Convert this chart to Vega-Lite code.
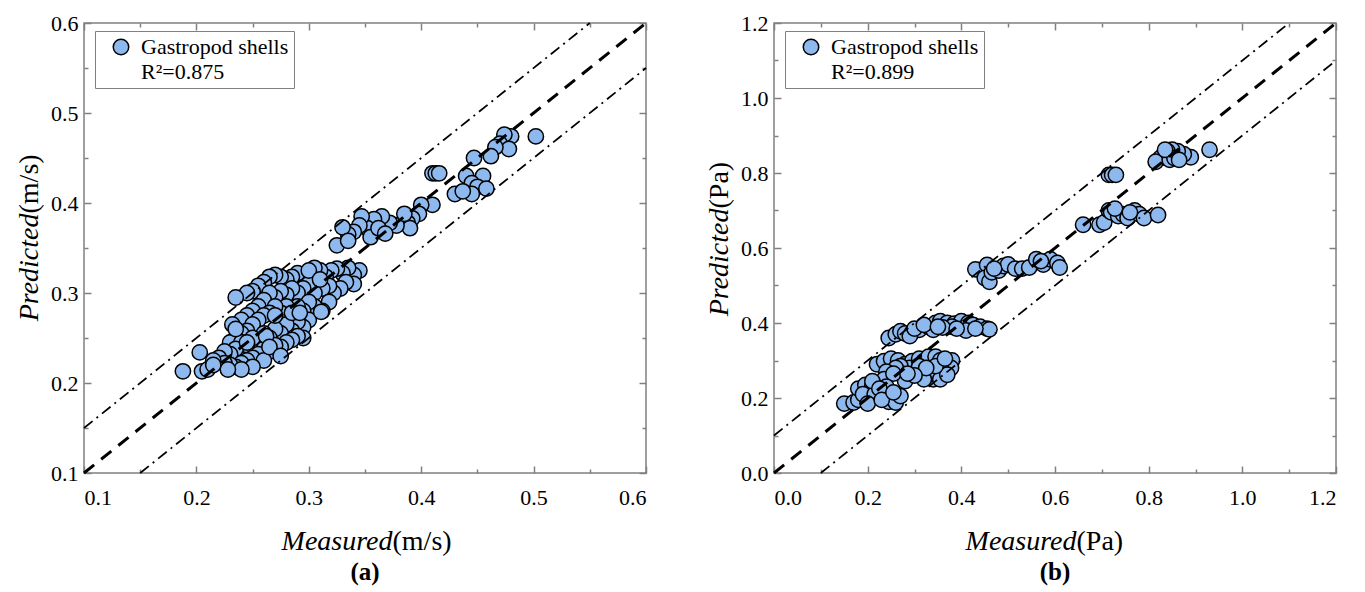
{
  "$schema": "https://vega.github.io/schema/vega-lite/v6.json",
  "background": "white",
  "padding": {"left": 14, "top": 11, "right": 5, "bottom": 0},
  "spacing": 51,
  "resolve": {"scale": {"fill": "independent", "stroke": "independent"}, "legend": {"fill": "independent", "stroke": "independent"}},
  "config": {
    "font": "Liberation Serif",
    "style": {"guide-label": {"font": "Liberation Serif", "fontSize": 22, "fill": "black"}, "guide-title": {"font": "Liberation Serif", "fontSize": 28, "fill": "black"}},
    "view": {"stroke": "#808080", "strokeWidth": 1.5},
    "axis": {"labelFont": "Liberation Serif", "labelFontSize": 22, "labelColor": "black", "titleFont": "Liberation Serif", "titleFontSize": 28, "titleColor": "black", "titleFontWeight": "normal", "domain": false, "grid": false, "tickColor": "#808080", "tickWidth": 1.5},
    "legend": {"orient": "none", "legendX": 11, "legendY": 8, "labelFont": "Liberation Serif", "labelFontSize": 22, "labelColor": "black", "symbolType": "circle", "symbolSize": 240, "symbolStrokeWidth": 1.5, "symbolOpacity": 1, "strokeColor": "#808080", "fillColor": "white", "padding": 5, "symbolOffset": 10, "labelOffset": 9, "rowPadding": 3},
    "title": {"font": "Liberation Serif", "fontSize": 25, "fontWeight": "bold", "color": "black"}
  },
  "hconcat": [
    {
      "width": 562, "height": 450,
      "title": {"text": "(a)", "orient": "bottom", "offset": 5},
      "resolve": {"axis": {"x": "independent", "y": "independent"}},
      "layer": [
        {
          "data": {"values": [
            {"m":0.502,"p":0.474},{"m":0.480,"p":0.474},{"m":0.474,"p":0.476},{"m":0.470,"p":0.466},{"m":0.478,"p":0.460},{"m":0.466,"p":0.462},{"m":0.462,"p":0.452},{"m":0.447,"p":0.450},{"m":0.455,"p":0.430},{"m":0.440,"p":0.430},{"m":0.445,"p":0.422},{"m":0.450,"p":0.418},{"m":0.458,"p":0.416},{"m":0.445,"p":0.410},{"m":0.430,"p":0.410},{"m":0.437,"p":0.413},{"m":0.410,"p":0.433},{"m":0.413,"p":0.433},{"m":0.416,"p":0.433},{"m":0.410,"p":0.398},{"m":0.400,"p":0.398},{"m":0.398,"p":0.388},{"m":0.392,"p":0.383},{"m":0.388,"p":0.378},{"m":0.390,"p":0.372},{"m":0.378,"p":0.375},{"m":0.385,"p":0.388},{"m":0.372,"p":0.378},{"m":0.365,"p":0.385},{"m":0.358,"p":0.382},{"m":0.352,"p":0.372},{"m":0.347,"p":0.385},{"m":0.345,"p":0.375},{"m":0.340,"p":0.368},{"m":0.335,"p":0.365},{"m":0.330,"p":0.373},{"m":0.325,"p":0.353},{"m":0.335,"p":0.358},{"m":0.355,"p":0.362},{"m":0.362,"p":0.372},{"m":0.368,"p":0.366},
            {"m":0.345,"p":0.325},{"m":0.340,"p":0.320},{"m":0.335,"p":0.328},{"m":0.330,"p":0.322},{"m":0.325,"p":0.327},{"m":0.320,"p":0.325},{"m":0.315,"p":0.318},{"m":0.310,"p":0.325},{"m":0.305,"p":0.328},{"m":0.300,"p":0.322},{"m":0.296,"p":0.318},{"m":0.290,"p":0.322},{"m":0.285,"p":0.318},{"m":0.280,"p":0.315},{"m":0.275,"p":0.318},{"m":0.270,"p":0.320},{"m":0.265,"p":0.318},{"m":0.260,"p":0.312},{"m":0.255,"p":0.308},{"m":0.250,"p":0.302},{"m":0.245,"p":0.300},{"m":0.235,"p":0.295},
            {"m":0.340,"p":0.310},{"m":0.333,"p":0.312},{"m":0.328,"p":0.305},{"m":0.322,"p":0.300},{"m":0.318,"p":0.308},{"m":0.312,"p":0.305},{"m":0.305,"p":0.300},{"m":0.300,"p":0.310},{"m":0.295,"p":0.305},{"m":0.290,"p":0.300},{"m":0.285,"p":0.305},{"m":0.280,"p":0.298},{"m":0.275,"p":0.302},{"m":0.270,"p":0.295},{"m":0.265,"p":0.300},{"m":0.260,"p":0.292},{"m":0.255,"p":0.285},{"m":0.250,"p":0.280},{"m":0.245,"p":0.275},{"m":0.240,"p":0.270},{"m":0.232,"p":0.265},
            {"m":0.318,"p":0.290},{"m":0.312,"p":0.280},{"m":0.305,"p":0.285},{"m":0.300,"p":0.290},{"m":0.295,"p":0.280},{"m":0.290,"p":0.285},{"m":0.285,"p":0.275},{"m":0.280,"p":0.285},{"m":0.275,"p":0.278},{"m":0.270,"p":0.285},{"m":0.265,"p":0.278},{"m":0.260,"p":0.275},{"m":0.255,"p":0.270},{"m":0.250,"p":0.265},{"m":0.245,"p":0.258},{"m":0.240,"p":0.255},{"m":0.235,"p":0.250},{"m":0.230,"p":0.245},
            {"m":0.300,"p":0.270},{"m":0.295,"p":0.262},{"m":0.290,"p":0.268},{"m":0.285,"p":0.258},{"m":0.280,"p":0.265},{"m":0.275,"p":0.255},{"m":0.270,"p":0.260},{"m":0.265,"p":0.250},{"m":0.260,"p":0.255},{"m":0.255,"p":0.245},{"m":0.250,"p":0.250},{"m":0.245,"p":0.242},{"m":0.240,"p":0.245},{"m":0.235,"p":0.238},{"m":0.230,"p":0.232},{"m":0.225,"p":0.235},{"m":0.220,"p":0.228},
            {"m":0.295,"p":0.250},{"m":0.290,"p":0.252},{"m":0.285,"p":0.248},{"m":0.280,"p":0.245},{"m":0.275,"p":0.240},{"m":0.270,"p":0.242},{"m":0.265,"p":0.235},{"m":0.260,"p":0.238},{"m":0.255,"p":0.232},{"m":0.250,"p":0.228},{"m":0.245,"p":0.225},{"m":0.240,"p":0.222},{"m":0.235,"p":0.218},{"m":0.230,"p":0.220},{"m":0.225,"p":0.222},{"m":0.215,"p":0.225},
            {"m":0.260,"p":0.225},{"m":0.250,"p":0.218},{"m":0.240,"p":0.215},{"m":0.228,"p":0.215},{"m":0.188,"p":0.213},{"m":0.205,"p":0.213},{"m":0.210,"p":0.215},{"m":0.203,"p":0.234},{"m":0.215,"p":0.220},
            {"m":0.285,"p":0.278},{"m":0.292,"p":0.278},{"m":0.270,"p":0.275},{"m":0.245,"p":0.245},{"m":0.235,"p":0.260},{"m":0.262,"p":0.252},{"m":0.300,"p":0.325},{"m":0.310,"p":0.315},{"m":0.265,"p":0.240},{"m":0.275,"p":0.230},{"m":0.311,"p":0.279}
          ]},
          "mark": {"type": "circle", "size": 235, "strokeWidth": 1.5, "opacity": 1},
          "encoding": {
            "x": {"field": "m", "type": "quantitative", "scale": {"domain": [0.1, 0.6], "nice": false, "zero": false},
              "axis": {"orient": "bottom", "values": [0.1,0.2,0.3,0.4,0.5,0.6], "format": ".1f", "tickSize": -7, "labelPadding": 21, "labelFont": "Liberation Serif", "title": "Measured", "titleFontStyle": "italic", "titleAlign": "right", "titleX": 308, "titleY": 76, "titleBaseline": "alphabetic"}},
            "y": {"field": "p", "type": "quantitative", "scale": {"domain": [0.1, 0.6], "nice": false, "zero": false},
              "axis": {"orient": "left", "values": [0.1,0.2,0.3,0.4,0.5,0.6], "format": ".1f", "tickSize": -7, "labelPadding": 13, "labelFont": "Liberation Serif", "title": "Predicted", "titleFontStyle": "italic", "titleAngle": -90, "titleAlign": "right", "titleX": -47, "titleY": 190, "titleBaseline": "alphabetic"}},
            "fill": {"datum": "Gastropod shells", "scale": {"domain": ["Gastropod shells", "R²=0.875"], "range": ["#8DB9EE", "transparent"]}, "legend": {"title": null}},
            "stroke": {"datum": "Gastropod shells", "scale": {"domain": ["Gastropod shells", "R²=0.875"], "range": ["black", "transparent"]}, "legend": {"title": null}}
          }
        },
        {
          "data": {"values": [{"m": 0.1, "p": 0.1}, {"m": 0.6, "p": 0.6}]},
          "mark": {"type": "line", "color": "black", "strokeWidth": 3, "strokeDash": [13, 9]},
          "encoding": {
            "x": {"field": "m", "type": "quantitative", "axis": {"orient": "bottom", "values": [0.15,0.25,0.35,0.45,0.55], "tickSize": -4, "labels": false, "title": "(m/s)", "titleAlign": "left", "titleX": 308, "titleY": 76, "titleBaseline": "alphabetic"}},
            "y": {"field": "p", "type": "quantitative", "axis": {"orient": "left", "values": [0.15,0.25,0.35,0.45,0.55], "tickSize": -4, "labels": false, "title": "(m/s)", "titleAngle": -90, "titleAlign": "left", "titleX": -47, "titleY": 190, "titleBaseline": "alphabetic"}}
          }
        },
        {
          "data": {"values": [{"m": 0.1, "p": 0.15}, {"m": 0.55, "p": 0.6}]},
          "mark": {"type": "line", "color": "black", "strokeWidth": 1.8, "strokeDash": [11, 5, 2, 5]},
          "encoding": {
            "x": {"field": "m", "type": "quantitative", "axis": {"orient": "top", "values": [0.1,0.2,0.3,0.4,0.5,0.6], "tickSize": -7, "labels": false, "title": null}},
            "y": {"field": "p", "type": "quantitative", "axis": {"orient": "right", "values": [0.1,0.2,0.3,0.4,0.5,0.6], "tickSize": -7, "labels": false, "title": null}}
          }
        },
        {
          "data": {"values": [{"m": 0.15, "p": 0.1}, {"m": 0.6, "p": 0.55}]},
          "mark": {"type": "line", "color": "black", "strokeWidth": 1.8, "strokeDash": [11, 5, 2, 5]},
          "encoding": {
            "x": {"field": "m", "type": "quantitative", "axis": {"orient": "top", "values": [0.15,0.25,0.35,0.45,0.55], "tickSize": -4, "labels": false, "title": null}},
            "y": {"field": "p", "type": "quantitative", "axis": {"orient": "right", "values": [0.15,0.25,0.35,0.45,0.55], "tickSize": -4, "labels": false, "title": null}}
          }
        }
      ]
    },
    {
      "width": 562, "height": 450,
      "title": {"text": "(b)", "orient": "bottom", "offset": 5},
      "resolve": {"axis": {"x": "independent", "y": "independent"}},
      "layer": [
        {
          "data": {"values": [
            {"m":0.93,"p":0.862},{"m":0.89,"p":0.842},{"m":0.875,"p":0.85},{"m":0.862,"p":0.858},{"m":0.85,"p":0.862},{"m":0.84,"p":0.858},{"m":0.832,"p":0.848},{"m":0.825,"p":0.84},{"m":0.815,"p":0.83},{"m":0.845,"p":0.835},{"m":0.855,"p":0.84},{"m":0.865,"p":0.835},{"m":0.835,"p":0.862},
            {"m":0.715,"p":0.795},{"m":0.722,"p":0.795},{"m":0.73,"p":0.795},
            {"m":0.66,"p":0.662},{"m":0.695,"p":0.662},{"m":0.705,"p":0.668},{"m":0.715,"p":0.70},{"m":0.72,"p":0.695},{"m":0.735,"p":0.685},{"m":0.745,"p":0.69},{"m":0.755,"p":0.68},{"m":0.77,"p":0.70},{"m":0.78,"p":0.69},{"m":0.79,"p":0.68},{"m":0.82,"p":0.688},{"m":0.728,"p":0.705},{"m":0.76,"p":0.695},
            {"m":0.43,"p":0.543},{"m":0.455,"p":0.555},{"m":0.45,"p":0.52},{"m":0.46,"p":0.51},{"m":0.465,"p":0.535},{"m":0.48,"p":0.54},{"m":0.49,"p":0.552},{"m":0.50,"p":0.556},{"m":0.515,"p":0.545},{"m":0.53,"p":0.545},{"m":0.545,"p":0.548},{"m":0.56,"p":0.57},{"m":0.575,"p":0.556},{"m":0.59,"p":0.57},{"m":0.605,"p":0.56},{"m":0.61,"p":0.548},{"m":0.57,"p":0.565},{"m":0.47,"p":0.545},
            {"m":0.245,"p":0.36},{"m":0.26,"p":0.37},{"m":0.27,"p":0.378},{"m":0.28,"p":0.372},{"m":0.295,"p":0.375},{"m":0.31,"p":0.382},{"m":0.33,"p":0.39},{"m":0.345,"p":0.40},{"m":0.355,"p":0.405},{"m":0.37,"p":0.40},{"m":0.385,"p":0.398},{"m":0.40,"p":0.405},{"m":0.415,"p":0.40},{"m":0.425,"p":0.395},{"m":0.44,"p":0.39},{"m":0.455,"p":0.385},{"m":0.46,"p":0.383},{"m":0.41,"p":0.38},{"m":0.38,"p":0.39},{"m":0.36,"p":0.388},{"m":0.34,"p":0.382},{"m":0.29,"p":0.365},{"m":0.30,"p":0.385},{"m":0.32,"p":0.395},{"m":0.35,"p":0.39},{"m":0.39,"p":0.385},{"m":0.43,"p":0.385},
            {"m":0.22,"p":0.29},{"m":0.235,"p":0.298},{"m":0.25,"p":0.305},{"m":0.265,"p":0.30},{"m":0.28,"p":0.29},{"m":0.295,"p":0.298},{"m":0.31,"p":0.305},{"m":0.32,"p":0.298},{"m":0.33,"p":0.31},{"m":0.345,"p":0.31},{"m":0.355,"p":0.30},{"m":0.365,"p":0.29},{"m":0.38,"p":0.30},{"m":0.378,"p":0.28},{"m":0.36,"p":0.27},{"m":0.35,"p":0.258},{"m":0.34,"p":0.25},{"m":0.33,"p":0.262},{"m":0.30,"p":0.27},{"m":0.29,"p":0.28},{"m":0.27,"p":0.285},{"m":0.26,"p":0.28},{"m":0.24,"p":0.27},{"m":0.235,"p":0.25},{"m":0.28,"p":0.245},{"m":0.32,"p":0.25},{"m":0.355,"p":0.25},{"m":0.37,"p":0.262},{"m":0.31,"p":0.285},{"m":0.345,"p":0.285},{"m":0.255,"p":0.265},{"m":0.365,"p":0.305},{"m":0.325,"p":0.28},{"m":0.30,"p":0.26},{"m":0.285,"p":0.265},
            {"m":0.15,"p":0.185},{"m":0.17,"p":0.188},{"m":0.18,"p":0.195},{"m":0.18,"p":0.225},{"m":0.195,"p":0.235},{"m":0.21,"p":0.232},{"m":0.22,"p":0.228},{"m":0.23,"p":0.218},{"m":0.24,"p":0.21},{"m":0.25,"p":0.205},{"m":0.26,"p":0.198},{"m":0.20,"p":0.20},{"m":0.19,"p":0.21},{"m":0.215,"p":0.21},{"m":0.245,"p":0.19},{"m":0.26,"p":0.188},{"m":0.27,"p":0.205},{"m":0.24,"p":0.23},{"m":0.21,"p":0.245},{"m":0.225,"p":0.225},{"m":0.20,"p":0.185},{"m":0.23,"p":0.195},{"m":0.255,"p":0.215}
          ]},
          "mark": {"type": "circle", "size": 235, "strokeWidth": 1.5, "opacity": 1},
          "encoding": {
            "x": {"field": "m", "type": "quantitative", "scale": {"domain": [0, 1.2], "nice": false, "zero": false},
              "axis": {"orient": "bottom", "values": [0,0.2,0.4,0.6,0.8,1.0,1.2], "format": ".1f", "tickSize": -7, "labelPadding": 21, "labelFont": "Liberation Serif", "title": "Measured", "titleFontStyle": "italic", "titleAlign": "right", "titleX": 302, "titleY": 76, "titleBaseline": "alphabetic"}},
            "y": {"field": "p", "type": "quantitative", "scale": {"domain": [0, 1.2], "nice": false, "zero": false},
              "axis": {"orient": "left", "values": [0,0.2,0.4,0.6,0.8,1.0,1.2], "format": ".1f", "tickSize": -7, "labelPadding": 13, "labelFont": "Liberation Serif", "title": "Predicted", "titleFontStyle": "italic", "titleAngle": -90, "titleAlign": "right", "titleX": -47, "titleY": 185, "titleBaseline": "alphabetic"}},
            "fill": {"datum": "Gastropod shells", "scale": {"domain": ["Gastropod shells", "R²=0.899"], "range": ["#8DB9EE", "transparent"]}, "legend": {"title": null}},
            "stroke": {"datum": "Gastropod shells", "scale": {"domain": ["Gastropod shells", "R²=0.899"], "range": ["black", "transparent"]}, "legend": {"title": null}}
          }
        },
        {
          "data": {"values": [{"m": 0, "p": 0}, {"m": 1.2, "p": 1.2}]},
          "mark": {"type": "line", "color": "black", "strokeWidth": 3, "strokeDash": [13, 9]},
          "encoding": {
            "x": {"field": "m", "type": "quantitative", "axis": {"orient": "bottom", "values": [0.1,0.3,0.5,0.7,0.9,1.1], "tickSize": -4, "labels": false, "title": "(Pa)", "titleAlign": "left", "titleX": 302, "titleY": 76, "titleBaseline": "alphabetic"}},
            "y": {"field": "p", "type": "quantitative", "axis": {"orient": "left", "values": [0.1,0.3,0.5,0.7,0.9,1.1], "tickSize": -4, "labels": false, "title": "(Pa)", "titleAngle": -90, "titleAlign": "left", "titleX": -47, "titleY": 185, "titleBaseline": "alphabetic"}}
          }
        },
        {
          "data": {"values": [{"m": 0, "p": 0.1}, {"m": 1.1, "p": 1.2}]},
          "mark": {"type": "line", "color": "black", "strokeWidth": 1.8, "strokeDash": [11, 5, 2, 5]},
          "encoding": {
            "x": {"field": "m", "type": "quantitative", "axis": {"orient": "top", "values": [0,0.2,0.4,0.6,0.8,1.0,1.2], "tickSize": -7, "labels": false, "title": null}},
            "y": {"field": "p", "type": "quantitative", "axis": {"orient": "right", "values": [0,0.2,0.4,0.6,0.8,1.0,1.2], "tickSize": -7, "labels": false, "title": null}}
          }
        },
        {
          "data": {"values": [{"m": 0.1, "p": 0}, {"m": 1.2, "p": 1.1}]},
          "mark": {"type": "line", "color": "black", "strokeWidth": 1.8, "strokeDash": [11, 5, 2, 5]},
          "encoding": {
            "x": {"field": "m", "type": "quantitative", "axis": {"orient": "top", "values": [0.1,0.3,0.5,0.7,0.9,1.1], "tickSize": -4, "labels": false, "title": null}},
            "y": {"field": "p", "type": "quantitative", "axis": {"orient": "right", "values": [0.1,0.3,0.5,0.7,0.9,1.1], "tickSize": -4, "labels": false, "title": null}}
          }
        }
      ]
    }
  ]
}
